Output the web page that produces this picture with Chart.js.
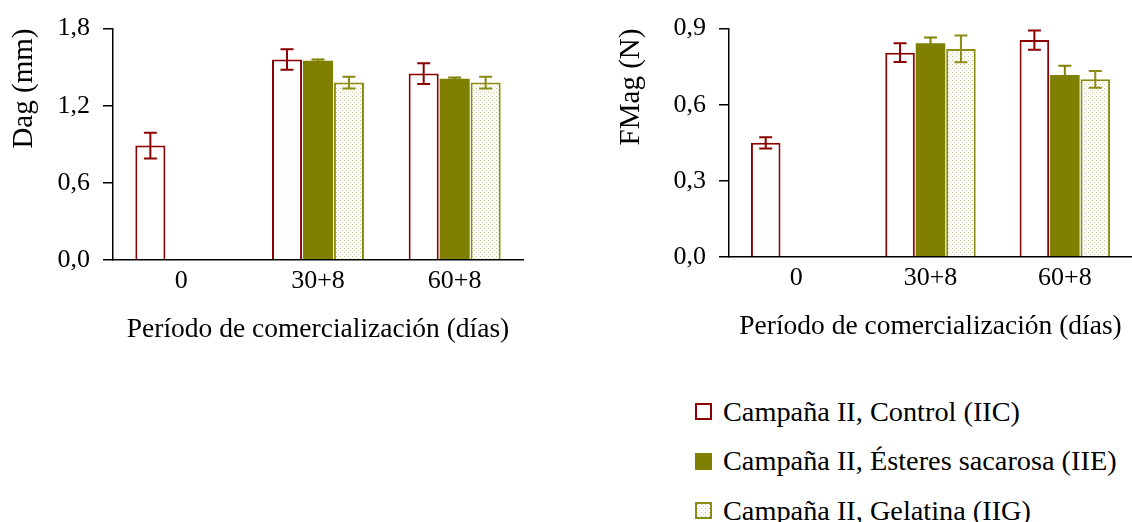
<!DOCTYPE html>
<html><head><meta charset="utf-8">
<script src="https://cdn.jsdelivr.net/npm/chart.js@4"></script>
<style>
html,body{margin:0;padding:0;background:#fff;width:1132px;height:522px;overflow:hidden;position:relative;font-family:"Liberation Serif","Times New Roman",serif;}
canvas{position:absolute;}
#legend{position:absolute;left:695px;top:387px;}
.item{display:flex;align-items:center;height:49.5px;font-size:28.3px;color:#000;white-space:nowrap}
.sw{width:13px;height:13px;border:2px solid;margin-right:11px;box-sizing:content-box}
</style></head>
<body>
<canvas id="c1" width="540" height="346" style="left:0;top:0"></canvas>
<canvas id="c2" width="532" height="343" style="left:600px;top:0"></canvas>
<div id="legend"></div>
<script>
// ---- data ----
const categories = ['0', '30+8', '60+8'];
const seriesNames = ['Campaña II, Control (IIC)', 'Campaña II, Ésteres sacarosa (IIE)', 'Campaña II, Gelatina (IIG)'];
const xTitle = 'Período de comercialización (días)';

const dagTitle = 'Dag (mm)';
const dagTicks = [0, 0.6, 1.2, 1.8];
const dagIIC = [0.89, 1.56, 1.45];
const dagIICerr = [0.10, 0.08, 0.08];
const dagIIE = [null, 1.55, 1.41];
const dagIIEerr = [0, 0.01, 0.01];
const dagIIG = [null, 1.38, 1.38];
const dagIIGerr = [0, 0.045, 0.045];

const fmagTitle = 'FMag (N)';
const fmagTicks = [0, 0.3, 0.6, 0.9];
const fmagIIC = [0.45, 0.805, 0.855];
const fmagIICerr = [0.022, 0.037, 0.038];
const fmagIIE = [null, 0.842, 0.717];
const fmagIIEerr = [0, 0.023, 0.037];
const fmagIIG = [null, 0.82, 0.70];
const fmagIIGerr = [0, 0.053, 0.033];

// ---- styles ----
const FONT = '"Liberation Serif","Times New Roman",serif';
const RED = '#8B0000';
const OLIVE = '#808000';
const OLIVE2 = '#8C8C14';

function patternCanvas() {
  const p = document.createElement('canvas');
  p.width = 4; p.height = 4;
  const g = p.getContext('2d');
  g.fillStyle = '#fff'; g.fillRect(0, 0, 4, 4);
  g.fillStyle = '#c4c48a'; g.fillRect(0, 0, 1, 1);
  g.fillStyle = '#d6d6ae'; g.fillRect(2, 2, 1, 1);
  return p;
}
const patCan = patternCanvas();

const errorBars = {
  id: 'errorBars',
  afterDatasetsDraw(chart) {
    const ctx = chart.ctx, ys = chart.scales.y;
    chart.data.datasets.forEach((ds, i) => {
      const meta = chart.getDatasetMeta(i);
      meta.data.forEach((bar, j) => {
        const v = ds.data[j], e = ds.errors[j];
        if (v == null || !e) return;
        const x = bar.x, yt = ys.getPixelForValue(v + e), yb = ys.getPixelForValue(v - e);
        ctx.save();
        ctx.strokeStyle = ds.errorColor; ctx.lineWidth = 2;
        ctx.beginPath();
        ctx.moveTo(x, yt); ctx.lineTo(x, yb);
        ctx.moveTo(x - 6.5, yt); ctx.lineTo(x + 6.5, yt);
        ctx.moveTo(x - 6.5, yb); ctx.lineTo(x + 6.5, yb);
        ctx.stroke(); ctx.restore();
      });
    });
  }
};

function makeChart(id, s1, e1, s2, e2, s3, e3, ticks, yTitle, yWidth, titlePad, padRight) {
  const canvas = document.getElementById(id);
  const ctx = canvas.getContext('2d');
  const pat = ctx.createPattern(patCan, 'repeat');
  return new Chart(ctx, {
    type: 'bar',
    data: {
      labels: categories,
      datasets: [
        {label: seriesNames[0], data: s1, errors: e1, errorColor: RED, backgroundColor: '#fff', borderColor: RED, borderWidth: 2},
        {label: seriesNames[1], data: s2, errors: e2, errorColor: OLIVE, backgroundColor: OLIVE, borderColor: OLIVE, borderWidth: 0},
        {label: seriesNames[2], data: s3, errors: e3, errorColor: OLIVE2, backgroundColor: pat, borderColor: OLIVE2, borderWidth: 2}
      ]
    },
    options: {
      responsive: false,
      animation: false,
      devicePixelRatio: 1,
      layout: {padding: {top: 26, left: 0, right: padRight, bottom: 0}},
      datasets: {bar: {categoryPercentage: 0.68, barPercentage: 0.97}},
      plugins: {legend: {display: false}, tooltip: {enabled: false}},
      scales: {
        x: {
          offset: true,
          grid: {display: false, drawTicks: false},
          border: {display: true, color: '#000', width: 1.5, z: 1},
          ticks: {padding: 5.5, color: '#000', font: {family: FONT, size: 26}},
          title: {display: true, text: xTitle, color: '#000', font: {family: FONT, size: 27.5}, padding: {top: 10.8, bottom: 0}}
        },
        y: {
          min: ticks[0], max: ticks[ticks.length - 1],
          afterBuildTicks: s => { s.ticks = ticks.map(v => ({value: v})); },
          afterFit: s => { s.width = yWidth; },
          grid: {drawOnChartArea: false, drawTicks: true, tickLength: 10, color: '#000', lineWidth: 1.5},
          border: {display: true, color: '#000', width: 1.5, z: 1},
          ticks: {padding: 13, color: '#000', font: {family: FONT, size: 26},
                  callback: v => Number(v).toFixed(1).replace('.', ',')},
          title: {display: true, text: yTitle, align: 'end', color: '#000', font: {family: FONT, size: 29}, padding: {top: titlePad, bottom: 0}}
        }
      }
    },
    plugins: [errorBars]
  });
}

makeChart('c1', dagIIC, dagIICerr, dagIIE, dagIIEerr, dagIIG, dagIIGerr, dagTicks, dagTitle, 113, 6.6, 17);
makeChart('c2', fmagIIC, fmagIICerr, fmagIIE, fmagIIEerr, fmagIIG, fmagIIGerr, fmagTicks, fmagTitle, 129, 13.6, 0);

// ---- legend ----
const leg = document.getElementById('legend');
const swStyles = [
  {bg: '#fff', bc: RED},
  {bg: OLIVE, bc: OLIVE},
  {bg: 'url(' + patCan.toDataURL() + ')', bc: OLIVE2}
];
seriesNames.forEach((n, i) => {
  const it = document.createElement('div'); it.className = 'item';
  const sw = document.createElement('span'); sw.className = 'sw';
  sw.style.background = swStyles[i].bg; sw.style.borderColor = swStyles[i].bc;
  const t = document.createElement('span'); t.textContent = n;
  it.appendChild(sw); it.appendChild(t); leg.appendChild(it);
});
</script>
</body></html>
